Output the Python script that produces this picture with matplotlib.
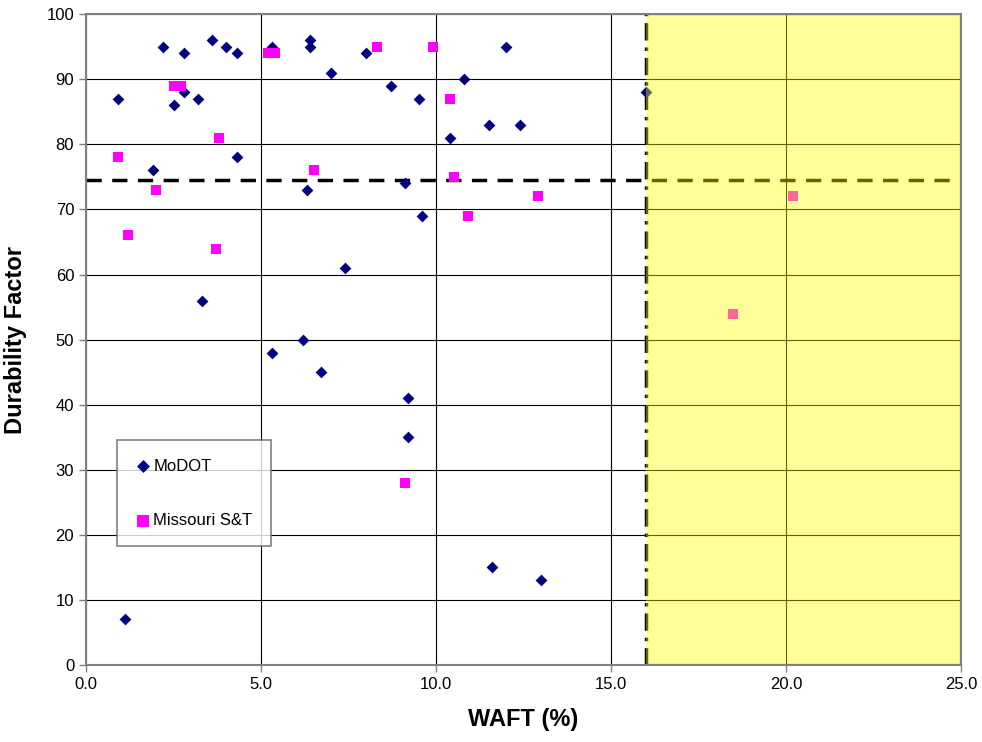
import matplotlib
matplotlib.use("Agg")
import matplotlib.pyplot as plt
from matplotlib.patches import Rectangle

plt.rcParams['font.family'] = ['Liberation Sans', 'DejaVu Sans']

modot_x = [0.9, 2.2, 2.8, 2.5, 2.8, 3.2, 3.6, 4.0, 4.3, 4.3, 1.9, 3.3, 1.1,
           5.3, 6.4, 6.4, 7.0, 6.3, 8.0, 8.7, 9.5, 9.1, 9.6, 7.4, 6.2, 5.3,
           6.7, 9.2, 9.2, 10.4, 10.8, 11.5, 12.0, 12.4, 11.6, 13.0, 16.0]
modot_y = [87, 95, 94, 86, 88, 87, 96, 95, 94, 78, 76, 56, 7,
           95, 96, 95, 91, 73, 94, 89, 87, 74, 69, 61, 50, 48,
           45, 41, 35, 81, 90, 83, 95, 83, 15, 13, 88]

mst_x = [0.9, 1.2, 2.0, 2.5, 2.7, 3.8, 3.7, 5.2, 5.4, 6.5, 8.3, 9.9, 10.4,
         10.5, 10.9, 12.9, 9.1, 18.5, 20.2]
mst_y = [78, 66, 73, 89, 89, 81, 64, 94, 94, 76, 95, 95, 87,
         75, 69, 72, 28, 54, 72]

threshold_df = 74.6
threshold_waft = 16.0
x_max = 25.0

fig = plt.figure(figsize=(9.82, 7.42), dpi=100)
ax = fig.add_axes([0.0876, 0.1038, 0.891, 0.877])

ax.set_xlim(0, x_max)
ax.set_ylim(0, 100)
ax.set_xticks([0, 5, 10, 15, 20, 25])
ax.set_xticklabels(['0.0', '5.0', '10.0', '15.0', '20.0', '25.0'])
ax.set_yticks(range(0, 101, 10))
ax.grid(True, color='black', linewidth=0.8, zorder=0)
ax.set_axisbelow(True)

ax.scatter(modot_x, modot_y, marker='D', s=36, color='#000080', zorder=3,
           label='MoDOT', linewidths=0)
ax.scatter(mst_x, mst_y, marker='s', s=52, color='#ff00ff', zorder=3,
           label='Missouri S&T', linewidths=0)

ax.axhline(threshold_df, color='black', linestyle=(0, (4.4, 3)), linewidth=2.5, zorder=2)
ax.axvline(threshold_waft, color='black', linestyle=(0, (5, 2, 1, 2)), linewidth=2.5, zorder=2)

ax.add_patch(Rectangle((threshold_waft, 0), x_max - threshold_waft, 100,
                       facecolor=(1, 1, 0, 0.4), edgecolor='none', zorder=4))
ax.plot([threshold_waft, x_max, x_max], [100, 100, 0], color='black', lw=1.5, zorder=4)
ax.plot([threshold_waft, x_max], [0, 0], color='black', lw=1.5, zorder=4)

for s in ax.spines.values():
    s.set_color('#808080')
    s.set_linewidth(1.5)
    s.set_zorder(5)

ax.tick_params(axis='both', labelsize=12, length=5, color='#808080', width=1)
ax.set_xlabel('WAFT (%)', fontsize=17, fontweight='bold', labelpad=12)
ax.set_ylabel('Durability Factor', fontsize=17, fontweight='bold', labelpad=14)

leg = ax.legend(loc='upper left', bbox_to_anchor=(0.035, 0.345), fontsize=12,
                frameon=True, fancybox=False, edgecolor='#606060',
                labelspacing=2.35, borderpad=1.1, handletextpad=0.1,
                handlelength=1.0, borderaxespad=0, markerscale=1.1)
leg.get_frame().set_linewidth(1.2)

fig.savefig('out.png', dpi=100)
